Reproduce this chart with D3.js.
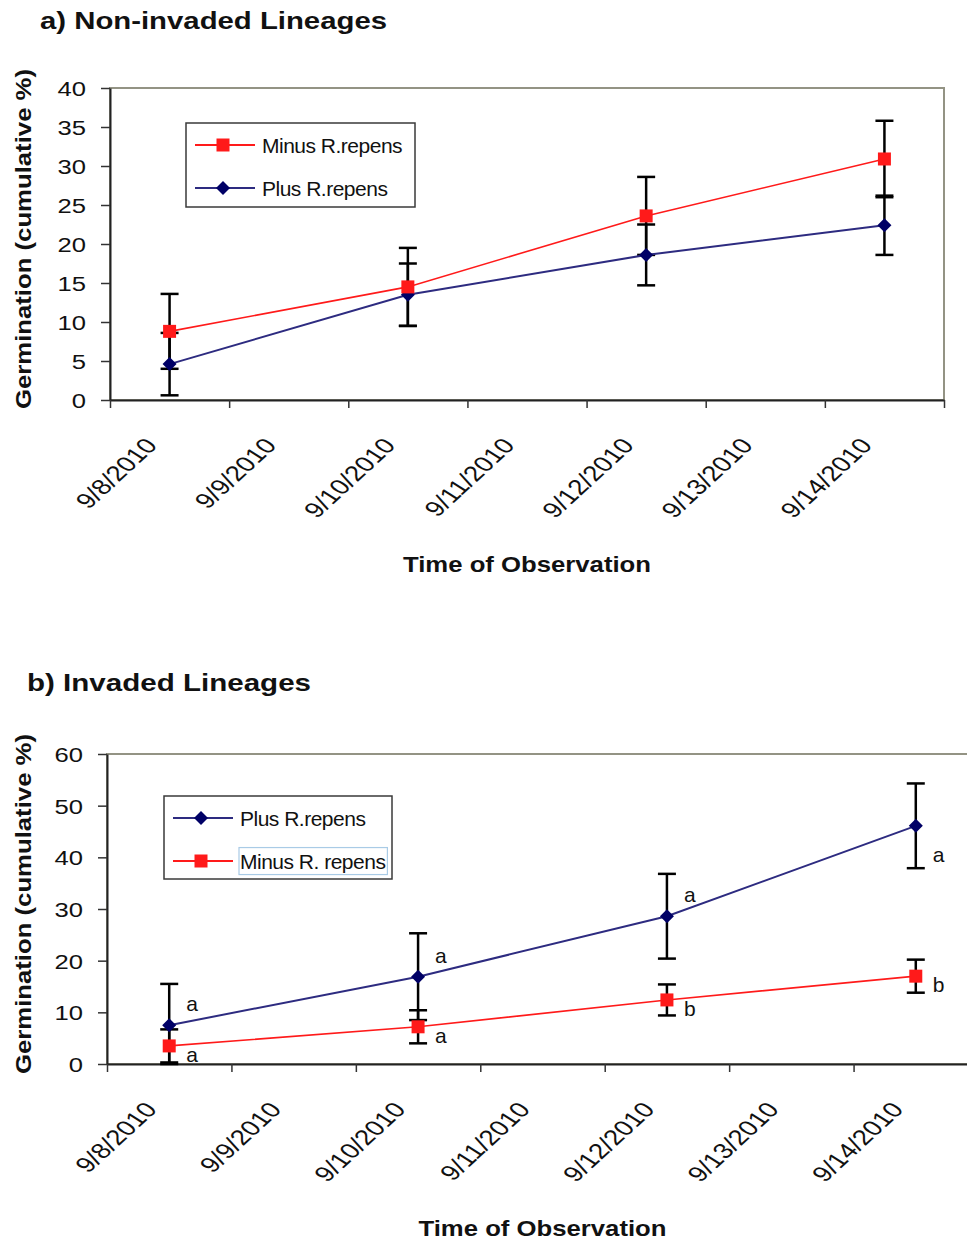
<!DOCTYPE html>
<html>
<head>
<meta charset="utf-8">
<script src="https://cdn.jsdelivr.net/npm/d3@7"></script>
<style>
  body { margin: 0; background: #fff; }
  text { font-family: Arial, "Liberation Sans", sans-serif; fill: #111; }
</style>
</head>
<body>
<svg id="chart" width="967" height="1241"></svg>
<script>
// categories on the date axis (one band per day)
var xDates = ["9/8/2010", "9/9/2010", "9/10/2010", "9/11/2010", "9/12/2010", "9/13/2010", "9/14/2010"]
// days that were actually observed
var obsDates = ["9/8/2010", "9/10/2010", "9/12/2010", "9/14/2010"]

// a) non-invaded
var aMinus = [8.8, 14.5, 23.6, 30.9]
var aMinusErr = [4.8, 5.0, 5.0, 4.9]
var aPlus = [4.6, 13.5, 18.6, 22.4]
var aPlusErr = [4.0, 4.0, 3.9, 3.8]
var aTicks = [0, 5, 10, 15, 20, 25, 30, 35, 40]

// b) invaded
var bPlus = [7.5, 16.9, 28.6, 46.1]
var bPlusErr = [8.0, 8.4, 8.2, 8.2]
var bMinus = [3.5, 7.2, 12.4, 17.0]
var bMinusErr = [3.2, 3.2, 3.0, 3.2]
var bPlusLetters = ["a", "a", "a", "a"]
var bPlusLetterSide = ["above", "above", "above", "underBar"]
var bMinusLetters = ["a", "a", "b", "b"]
var bMinusLetterSide = ["below", "below", "below", "below"]
var bTicks = [0, 10, 20, 30, 40, 50, 60]

var RED = "#ff1a1a", BLUE_LINE = "#2d2b80", BLUE_MARK = "#000066"
// vertical offset of the significance letters from their point
var letterDy = { above: -14, below: 16, underBar: 36 }

var svg = d3.select("#chart")
svg.append("rect").attr("width", 967).attr("height", 1241).attr("fill", "#fff")

function drawPanel(p) {
    var g = svg.append("g")
    var x = d3.scaleBand().domain(xDates).range([p.left, p.right]).padding(0)
    var xl = d3.scaleLinear().domain([0, xDates.length]).range([p.left, p.right])
    var y = d3.scaleLinear().domain([0, d3.max(p.yTicks)]).range([p.bottom, p.top])
    var cx = d => x(d) + x.bandwidth() / 2

    // plot area frame (grey), axes drawn on top
    g.append("rect")
        .attr("x", p.left).attr("y", p.top)
        .attr("width", p.right - p.left).attr("height", p.bottom - p.top)
        .attr("fill", "none").attr("stroke", "#939384").attr("stroke-width", 2)

    var ya = g.append("g").attr("transform", `translate(${p.left},0)`)
        .call(d3.axisLeft(y).tickValues(p.yTicks).tickSize(9).tickSizeOuter(0))
    ya.select(".domain").attr("stroke", "#222").attr("stroke-width", 2)
    ya.selectAll(".tick line").attr("stroke", "#333").attr("stroke-width", 1.5)
    ya.selectAll(".tick text")
        .attr("x", 0).attr("dy", "0.36em")
        .attr("transform", "translate(-24,0) scale(1.22,1)")
        .attr("font-size", 21).attr("fill", "#111")

    var xa = g.append("g").attr("transform", `translate(0,${p.bottom})`)
        .call(d3.axisBottom(xl).tickValues(d3.range(0, xDates.length + 1)).tickFormat("").tickSize(8).tickSizeOuter(0))
    xa.select(".domain").attr("stroke", "#222").attr("stroke-width", 2)
    xa.selectAll(".tick line").attr("stroke", "#333").attr("stroke-width", 1.5)

    // rotated date labels
    g.selectAll(".xlab").data(xDates).enter().append("text")
        .attr("class", "xlab")
        .attr("text-anchor", "end")
        .attr("font-size", 21.5)
        .attr("transform", d => `translate(${cx(d) - 11},${p.bottom + 46}) scale(1.3,1) rotate(-50)`)
        .text(d => d)

    // error bars first, markers on top
    p.series.forEach(s => {
        var pts = obsDates.map((d, i) => ({ d: d, v: s.values[i], e: s.err[i] }))
        var eb = g.append("g").attr("stroke", "#000").attr("stroke-width", 2.5)
        pts.forEach(pt => {
            var lo = Math.max(0, pt.v - pt.e), hi = pt.v + pt.e
            var X = cx(pt.d)
            eb.append("line").attr("x1", X).attr("x2", X).attr("y1", y(lo)).attr("y2", y(hi))
            eb.append("line").attr("x1", X - 9).attr("x2", X + 9).attr("y1", y(hi)).attr("y2", y(hi))
            eb.append("line").attr("x1", X - 9).attr("x2", X + 9).attr("y1", y(lo)).attr("y2", y(lo))
        })
    })
    p.series.forEach(s => {
        var pts = obsDates.map((d, i) => ({ d: d, v: s.values[i] }))
        g.append("path").datum(pts)
            .attr("fill", "none").attr("stroke", s.line).attr("stroke-width", s.shape == "square" ? 1.6 : 2)
            .attr("d", d3.line().x(d => cx(d.d)).y(d => y(d.v)))
        g.selectAll(null).data(pts).enter().append("path")
            .attr("transform", d => `translate(${cx(d.d)},${y(d.v)})`)
            .attr("d", s.shape == "square" ? "M-6.5,-6.5H6.5V6.5H-6.5Z" : "M0,-7L7,0L0,7L-7,0Z")
            .attr("fill", s.mark)
        if (s.letters) {
            g.selectAll(null).data(pts).enter().append("text")
                .attr("x", d => cx(d.d) + 17)
                .attr("y", (d, i) => y(d.v) + letterDy[s.side[i]])
                .attr("font-size", 21)
                .text((d, i) => s.letters[i])
        }
    })

    // legend
    var lg = g.append("g")
    lg.append("rect").attr("x", p.leg.x).attr("y", p.leg.y).attr("width", p.leg.w).attr("height", p.leg.h)
        .attr("fill", "#fff").attr("stroke", "#3a3a3a").attr("stroke-width", 1.5)
    p.legendOrder.forEach((s, i) => {
        var ry = p.leg.y + 22 + i * 43
        var lx = p.leg.x + 9
        lg.append("line").attr("x1", lx).attr("x2", lx + 60).attr("y1", ry).attr("y2", ry)
            .attr("stroke", s.line).attr("stroke-width", 2)
        lg.append("path").attr("transform", `translate(${lx + 28},${ry})`)
            .attr("d", s.shape == "square" ? "M-6.5,-6.5H6.5V6.5H-6.5Z" : "M0,-7L7,0L0,7L-7,0Z")
            .attr("fill", s.mark)
        var t = lg.append("text").attr("x", lx + 67).attr("y", ry).attr("dy", "0.36em")
            .attr("font-size", 21).attr("letter-spacing", -0.5).text(s.name)
        if (s.highlight) {
            var bb = t.node().getBBox()
            lg.append("rect").attr("x", bb.x - 1).attr("y", bb.y - 2).attr("width", bb.width + 3).attr("height", bb.height + 4)
                .attr("fill", "none").attr("stroke", "#a9cbe6").attr("stroke-width", 1.2)
        }
    })

    // titles
    g.append("text").attr("x", p.title.x).attr("y", p.title.y)
        .attr("font-size", 24).attr("font-weight", "bold")
        .attr("textLength", p.title.len).attr("lengthAdjust", "spacingAndGlyphs")
        .text(p.title.text)
    g.append("text")
        .attr("transform", `translate(31,${(p.top + p.bottom) / 2 - 5}) rotate(-90)`)
        .attr("text-anchor", "middle").attr("font-size", 22).attr("font-weight", "bold")
        .attr("textLength", 340).attr("lengthAdjust", "spacingAndGlyphs")
        .text("Germination (cumulative %)")
    g.append("text")
        .attr("x", (p.left + p.right) / 2).attr("y", p.bottom + 172)
        .attr("text-anchor", "middle").attr("font-size", 22).attr("font-weight", "bold")
        .attr("textLength", 248).attr("lengthAdjust", "spacingAndGlyphs")
        .text("Time of Observation")
}

var aMinusS = { name: "Minus R.repens", values: aMinus, err: aMinusErr, line: RED, mark: RED, shape: "square" }
var aPlusS = { name: "Plus R.repens", values: aPlus, err: aPlusErr, line: BLUE_LINE, mark: BLUE_MARK, shape: "diamond" }
drawPanel({
    left: 110, right: 944, top: 88, bottom: 400, yTicks: aTicks,
    series: [aPlusS, aMinusS],
    legendOrder: [aMinusS, aPlusS],
    leg: { x: 186, y: 123, w: 229, h: 84 },
    title: { x: 40, y: 29, len: 347, text: "a) Non-invaded Lineages" }
})

var bPlusS = { name: "Plus R.repens", values: bPlus, err: bPlusErr, line: BLUE_LINE, mark: BLUE_MARK, shape: "diamond", letters: bPlusLetters, side: bPlusLetterSide }
var bMinusS = { name: "Minus R. repens", values: bMinus, err: bMinusErr, line: RED, mark: RED, shape: "square", letters: bMinusLetters, side: bMinusLetterSide, highlight: true }
drawPanel({
    left: 107, right: 978, top: 754, bottom: 1064, yTicks: bTicks,
    series: [bMinusS, bPlusS],
    legendOrder: [bPlusS, bMinusS],
    leg: { x: 164, y: 796, w: 228, h: 83 },
    title: { x: 27, y: 691, len: 284, text: "b) Invaded Lineages" }
})
</script>
</body>
</html>
